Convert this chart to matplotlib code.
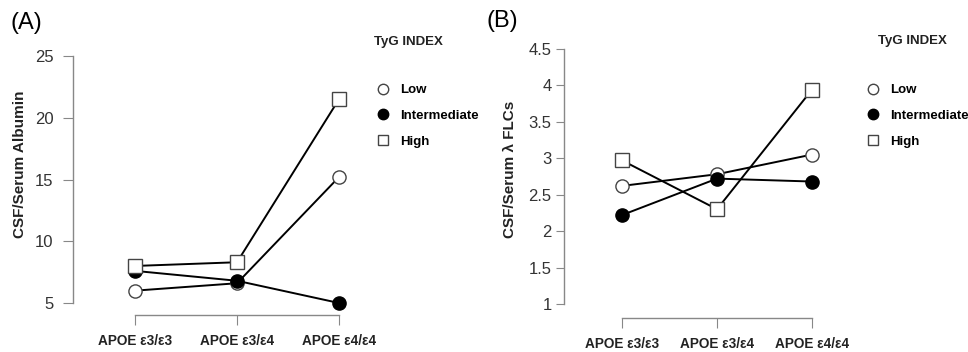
import matplotlib
matplotlib.use("Agg")
import matplotlib.pyplot as plt
from matplotlib.lines import Line2D

plt.rcParams['font.family'] = ['Liberation Sans', 'DejaVu Sans']

# Data
genotypes = ["APOE \u03b53/\u03b53", "APOE \u03b53/\u03b54", "APOE \u03b54/\u03b54"]
groups = ["Low", "Intermediate", "High"]

# (A) CSF/Serum Albumin
alb_low = [6.0, 6.6, 15.2]
alb_mid = [7.6, 6.8, 5.0]
alb_high = [8.0, 8.3, 21.5]
alb_ticks = [5, 10, 15, 20, 25]

# (B) CSF/Serum lambda FLCs
flc_low = [2.62, 2.78, 3.05]
flc_mid = [2.22, 2.72, 2.68]
flc_high = [2.97, 2.30, 3.94]
flc_ticks = [1, 1.5, 2, 2.5, 3, 3.5, 4, 4.5]
flc_ticklabels = ["1", "1.5", "2", "2.5", "3", "3.5", "4", "4.5"]

W, H = 968, 352
fig = plt.figure(figsize=(W / 100, H / 100), dpi=100)

markers = {"Low": dict(marker="o", mfc="white", mec="#444444"),
           "Intermediate": dict(marker="o", mfc="black", mec="black"),
           "High": dict(marker="s", mfc="white", mec="#444444")}
grey = "#888888"


def make_axes(left, right, top, bottom, x0px, ppx, y0, y0px, ppy):
    # pixel rect -> figure fraction, and limits that put data at given pixels
    ax = fig.add_axes([left / W, 1 - bottom / H, (right - left) / W, (bottom - top) / H])
    ax.set_xlim(1 - (x0px - left) / ppx, 1 + (right - x0px) / ppx)
    ax.set_ylim(y0 - (bottom - y0px) / ppy, y0 + (y0px - top) / ppy)
    return ax


def style(ax, ticks, ticklabels, ylen, ypad):
    for s in ["top", "right"]:
        ax.spines[s].set_visible(False)
    for s in ["left", "bottom"]:
        ax.spines[s].set_color(grey)
        ax.spines[s].set_linewidth(1.0)
    ax.spines["left"].set_bounds(ticks[0], ticks[-1])
    ax.spines["bottom"].set_bounds(1, 3)
    ax.set_yticks(ticks)
    ax.set_yticklabels(ticklabels, fontsize=12, color="#333333")
    ax.set_xticks([1, 2, 3])
    ax.set_xticklabels(genotypes, fontsize=9.8, fontweight="bold", color="#222222")
    ax.tick_params(axis="y", length=ylen, color=grey, pad=ypad)
    ax.tick_params(axis="x", length=7, color=grey, pad=7)


def draw(ax, series):
    for name, vals in zip(groups, series):
        ax.plot([1, 2, 3], vals, color="black", lw=1.4, ms=9.5, mew=1.0,
                clip_on=False, **markers[name])


def legend(ax, left_px, top_px, title_x, title_y):
    handles = [Line2D([], [], ls="none", ms=7.5, mew=1.0, **markers[g]) for g in groups]
    fig.legend(handles, groups, loc="upper left",
               bbox_to_anchor=(left_px / W, 1 - top_px / H),
               frameon=False, handlelength=1.0, handletextpad=0.8,
               borderpad=0, borderaxespad=0, labelspacing=1.02,
               prop=dict(size=9.5, weight="bold"))
    fig.text(title_x / W, 1 - title_y / H, "TyG INDEX", ha="center", va="center",
             fontsize=9.5, fontweight="bold", color="#222222")


# Panel A
axA = make_axes(73, 360, 53, 315, 135, 102, 5, 303, 12.35)
draw(axA, [alb_low, alb_mid, alb_high])
style(axA, alb_ticks, [str(t) for t in alb_ticks], 7, 7)
fig.text(20 / W, 1 - 164 / H, "CSF/Serum Albumin", rotation=90, ha="center", va="center",
         fontsize=11, fontweight="bold", color="#222222")
fig.text(10 / W, 1 - 23 / H, "(A)", ha="left", va="center", fontsize=17)
legend(axA, 376, 84, 408, 42)

# Panel B
axB = make_axes(564, 840, 46, 318, 622, 95, 1, 304, 72.9)
draw(axB, [flc_low, flc_mid, flc_high])
style(axB, flc_ticks, flc_ticklabels, 6, 3)
fig.text(510 / W, 1 - 169 / H, "CSF/Serum \u03bb FLCs", rotation=90, ha="center", va="center",
         fontsize=11, fontweight="bold", color="#222222")
fig.text(486 / W, 1 - 21 / H, "(B)", ha="left", va="center", fontsize=17)
legend(axB, 866, 84, 912, 41)

fig.savefig("out.png", dpi=100)
